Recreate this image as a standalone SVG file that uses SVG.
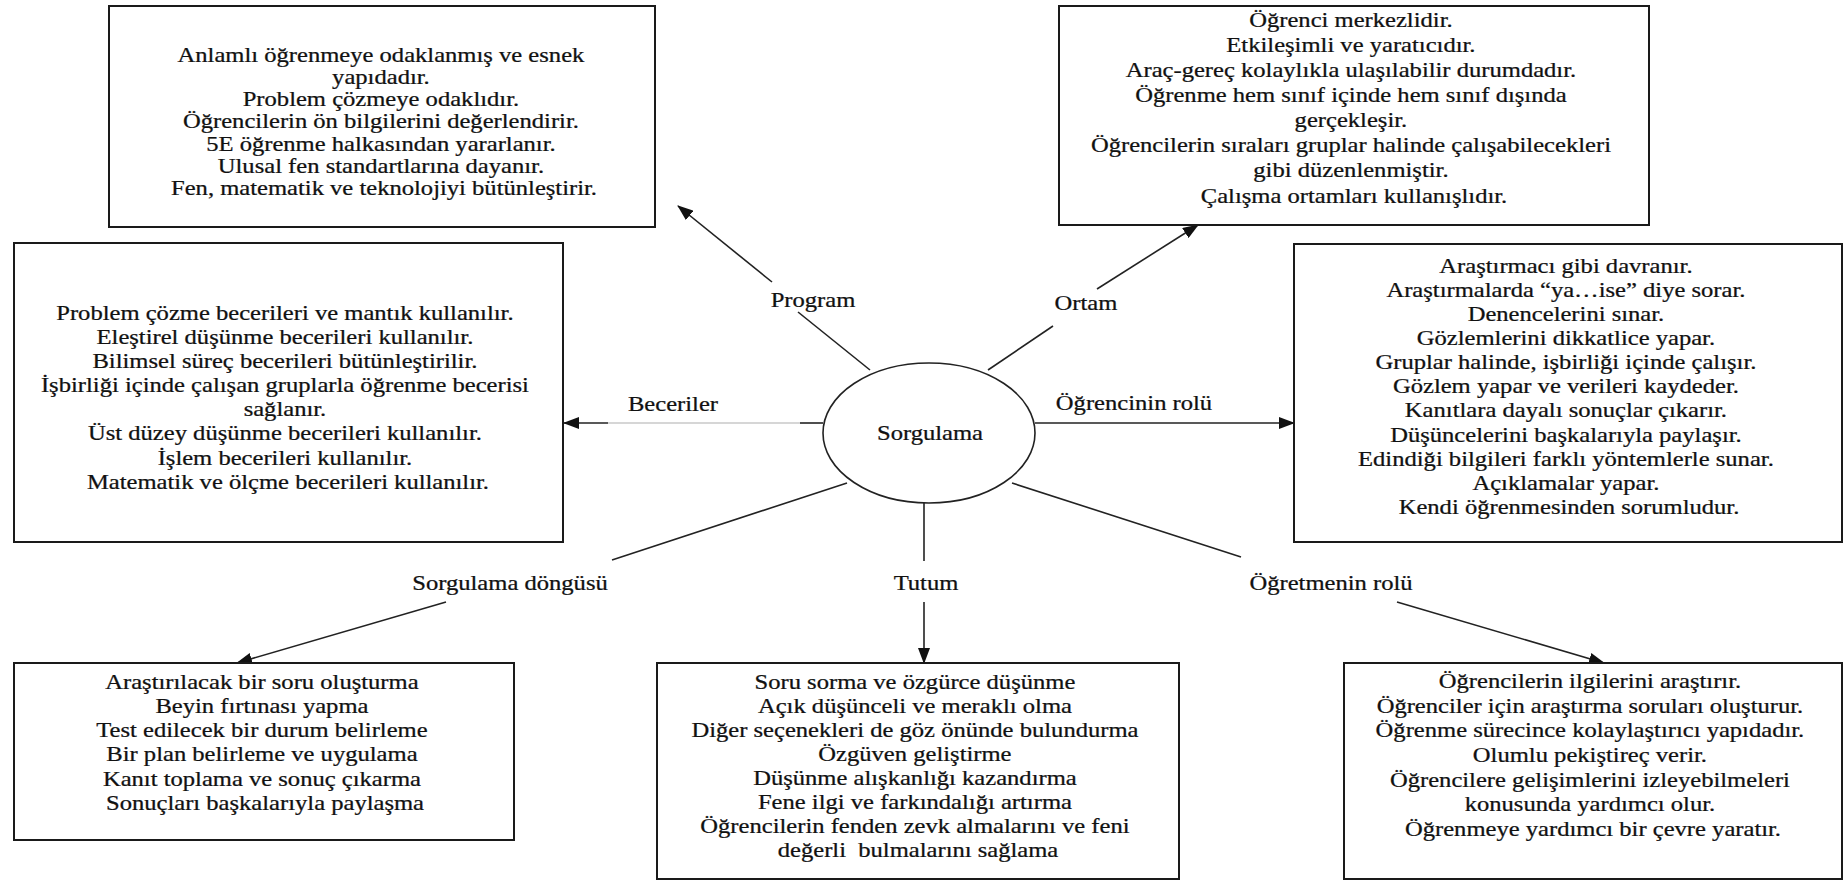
<svg xmlns="http://www.w3.org/2000/svg" width="1845" height="883" viewBox="0 0 1845 883">
<defs>
<style>
.box{fill:#fff;stroke:#1a1a1a;stroke-width:2}
.t{font-family:"Liberation Serif","Times New Roman",serif;font-size:20.5px;fill:#111;stroke:#111;stroke-width:0.25;text-anchor:middle}
.c{stroke:#222;stroke-width:1.6;fill:none}
.cg{stroke:#c8c8c8;stroke-width:1.6;fill:none}
</style>
<marker id="ah" markerUnits="userSpaceOnUse" markerWidth="16" markerHeight="12" refX="15" refY="6" orient="auto">
<path d="M0,0 L16,6 L0,12 Z" fill="#111"/>
</marker>
</defs>
<rect width="1845" height="883" fill="#fff"/>

<g id="connectors">
<line class="c" x1="870" y1="370" x2="798" y2="312"/>
<line class="c" x1="772" y1="282" x2="678" y2="206" marker-end="url(#ah)"/>
<line class="c" x1="988" y1="370" x2="1053" y2="326"/>
<line class="c" x1="1097" y1="289" x2="1198" y2="225" marker-end="url(#ah)"/>
<line class="c" x1="823" y1="423" x2="800" y2="423"/>
<line class="cg" x1="800" y1="423" x2="608" y2="423"/>
<line class="c" x1="608" y1="423" x2="564" y2="423" marker-end="url(#ah)"/>
<line class="c" x1="1035" y1="423" x2="1294" y2="423" marker-end="url(#ah)"/>
<line class="c" x1="847" y1="483" x2="612" y2="560"/>
<line class="c" x1="446" y1="602" x2="237" y2="663" marker-end="url(#ah)"/>
<line class="c" x1="924" y1="503" x2="924" y2="561"/>
<line class="c" x1="924" y1="602" x2="924" y2="663" marker-end="url(#ah)"/>
<line class="c" x1="1012" y1="483" x2="1241" y2="557"/>
<line class="c" x1="1397" y1="602" x2="1604" y2="663" marker-end="url(#ah)"/>
<text class="t" transform="translate(813,0) scale(1.2,1)"><tspan x="0" y="307">Program</tspan></text>
<text class="t" transform="translate(1086,0) scale(1.2,1)"><tspan x="0" y="310">Ortam</tspan></text>
<text class="t" transform="translate(673,0) scale(1.2,1)"><tspan x="0" y="411">Beceriler</tspan></text>
<text class="t" transform="translate(1134,0) scale(1.2,1)"><tspan x="0" y="410">Öğrencinin rolü</tspan></text>
<text class="t" transform="translate(510,0) scale(1.2,1)"><tspan x="0" y="590">Sorgulama döngüsü</tspan></text>
<text class="t" transform="translate(926,0) scale(1.2,1)"><tspan x="0" y="590">Tutum</tspan></text>
<text class="t" transform="translate(1331,0) scale(1.2,1)"><tspan x="0" y="590">Öğretmenin rolü</tspan></text>
</g>

<g id="sorgulama">
<ellipse cx="929" cy="433" rx="106" ry="70" fill="#fff" stroke="#222" stroke-width="1.6"/>
<text class="t" transform="translate(930,0) scale(1.2,1)"><tspan x="0" y="440">Sorgulama</tspan></text>
</g>

<g id="program">
<rect class="box" x="109" y="6" width="546" height="221"/>
<text class="t" transform="translate(384,0) scale(1.2,1)">
<tspan x="0" y="62">Anlamlı öğrenmeye odaklanmış ve esnek</tspan>
<tspan x="0" y="84">yapıdadır.</tspan>
<tspan x="0" y="106">Problem çözmeye odaklıdır.</tspan>
<tspan x="0" y="128.5">Öğrencilerin ön bilgilerini değerlendirir.</tspan>
<tspan x="0" y="151">5E öğrenme halkasından yararlanır.</tspan>
<tspan x="0" y="173">Ulusal fen standartlarına dayanır.</tspan>
<tspan x="0" y="195">Fen, matematik ve teknolojiyi bütünleştirir.</tspan>
</text>
</g>

<g id="ortam">
<rect class="box" x="1059" y="6" width="590" height="219"/>
<text class="t" transform="translate(1354,0) scale(1.2,1)">
<tspan x="0" y="27">Öğrenci merkezlidir.</tspan>
<tspan x="0" y="52">Etkileşimli ve yaratıcıdır.</tspan>
<tspan x="0" y="77">Araç-gereç kolaylıkla ulaşılabilir durumdadır.</tspan>
<tspan x="0" y="102.5">Öğrenme hem sınıf içinde hem sınıf dışında</tspan>
<tspan x="0" y="127.5">gerçekleşir.</tspan>
<tspan x="0" y="152.5">Öğrencilerin sıraları gruplar halinde çalışabilecekleri</tspan>
<tspan x="0" y="177.5">gibi düzenlenmiştir.</tspan>
<tspan x="0" y="203">Çalışma ortamları kullanışlıdır.</tspan>
</text>
</g>

<g id="beceriler">
<rect class="box" x="14" y="243" width="549" height="299"/>
<text class="t" transform="translate(288,0) scale(1.2,1)">
<tspan x="0" y="320">Problem çözme becerileri ve mantık kullanılır.</tspan>
<tspan x="0" y="344">Eleştirel düşünme becerileri kullanılır.</tspan>
<tspan x="0" y="368">Bilimsel süreç becerileri bütünleştirilir.</tspan>
<tspan x="0" y="392.5">İşbirliği içinde çalışan gruplarla öğrenme becerisi</tspan>
<tspan x="0" y="416.5">sağlanır.</tspan>
<tspan x="0" y="440.5">Üst düzey düşünme becerileri kullanılır.</tspan>
<tspan x="0" y="465">İşlem becerileri kullanılır.</tspan>
<tspan x="0" y="489">Matematik ve ölçme becerileri kullanılır.</tspan>
</text>
</g>

<g id="ogrencinin-rolu">
<rect class="box" x="1294" y="244" width="548" height="298"/>
<text class="t" transform="translate(1569,0) scale(1.2,1)">
<tspan x="0" y="273">Araştırmacı gibi davranır.</tspan>
<tspan x="0" y="297">Araştırmalarda “ya…ise” diye sorar.</tspan>
<tspan x="0" y="321">Denencelerini sınar.</tspan>
<tspan x="0" y="345.5">Gözlemlerini dikkatlice yapar.</tspan>
<tspan x="0" y="369.5">Gruplar halinde, işbirliği içinde çalışır.</tspan>
<tspan x="0" y="393.5">Gözlem yapar ve verileri kaydeder.</tspan>
<tspan x="0" y="417.5">Kanıtlara dayalı sonuçlar çıkarır.</tspan>
<tspan x="0" y="442">Düşüncelerini başkalarıyla paylaşır.</tspan>
<tspan x="0" y="466">Edindiği bilgileri farklı yöntemlerle sunar.</tspan>
<tspan x="0" y="490">Açıklamalar yapar.</tspan>
<tspan x="0" y="514">Kendi öğrenmesinden sorumludur.</tspan>
</text>
</g>

<g id="sorgulama-dongusu">
<rect class="box" x="14" y="663" width="500" height="177"/>
<text class="t" transform="translate(265,0) scale(1.2,1)">
<tspan x="0" y="689">Araştırılacak bir soru oluşturma</tspan>
<tspan x="0" y="713">Beyin fırtınası yapma</tspan>
<tspan x="0" y="737.5">Test edilecek bir durum belirleme</tspan>
<tspan x="0" y="761.5">Bir plan belirleme ve uygulama</tspan>
<tspan x="0" y="786">Kanıt toplama ve sonuç çıkarma</tspan>
<tspan x="0" y="810">Sonuçları başkalarıyla paylaşma</tspan>
</text>
</g>

<g id="tutum">
<rect class="box" x="657" y="663" width="522" height="216"/>
<text class="t" transform="translate(918,0) scale(1.2,1)">
<tspan x="0" y="689">Soru sorma ve özgürce düşünme</tspan>
<tspan x="0" y="713">Açık düşünceli ve meraklı olma</tspan>
<tspan x="0" y="737">Diğer seçenekleri de göz önünde bulundurma</tspan>
<tspan x="0" y="761">Özgüven geliştirme</tspan>
<tspan x="0" y="785">Düşünme alışkanlığı kazandırma</tspan>
<tspan x="0" y="809">Fene ilgi ve farkındalığı artırma</tspan>
<tspan x="0" y="833">Öğrencilerin fenden zevk almalarını ve feni</tspan>
<tspan x="0" y="857" xml:space="preserve">değerli  bulmalarını sağlama</tspan>
</text>
</g>

<g id="ogretmenin-rolu">
<rect class="box" x="1344" y="663" width="498" height="216"/>
<text class="t" transform="translate(1593,0) scale(1.2,1)">
<tspan x="0" y="688">Öğrencilerin ilgilerini araştırır.</tspan>
<tspan x="0" y="712.7">Öğrenciler için araştırma soruları oluşturur.</tspan>
<tspan x="0" y="737.3">Öğrenme sürecince kolaylaştırıcı yapıdadır.</tspan>
<tspan x="0" y="762">Olumlu pekiştireç verir.</tspan>
<tspan x="0" y="786.7">Öğrencilere gelişimlerini izleyebilmeleri</tspan>
<tspan x="0" y="811.3">konusunda yardımcı olur.</tspan>
<tspan x="0" y="836">Öğrenmeye yardımcı bir çevre yaratır.</tspan>
</text>
</g>
</svg>
